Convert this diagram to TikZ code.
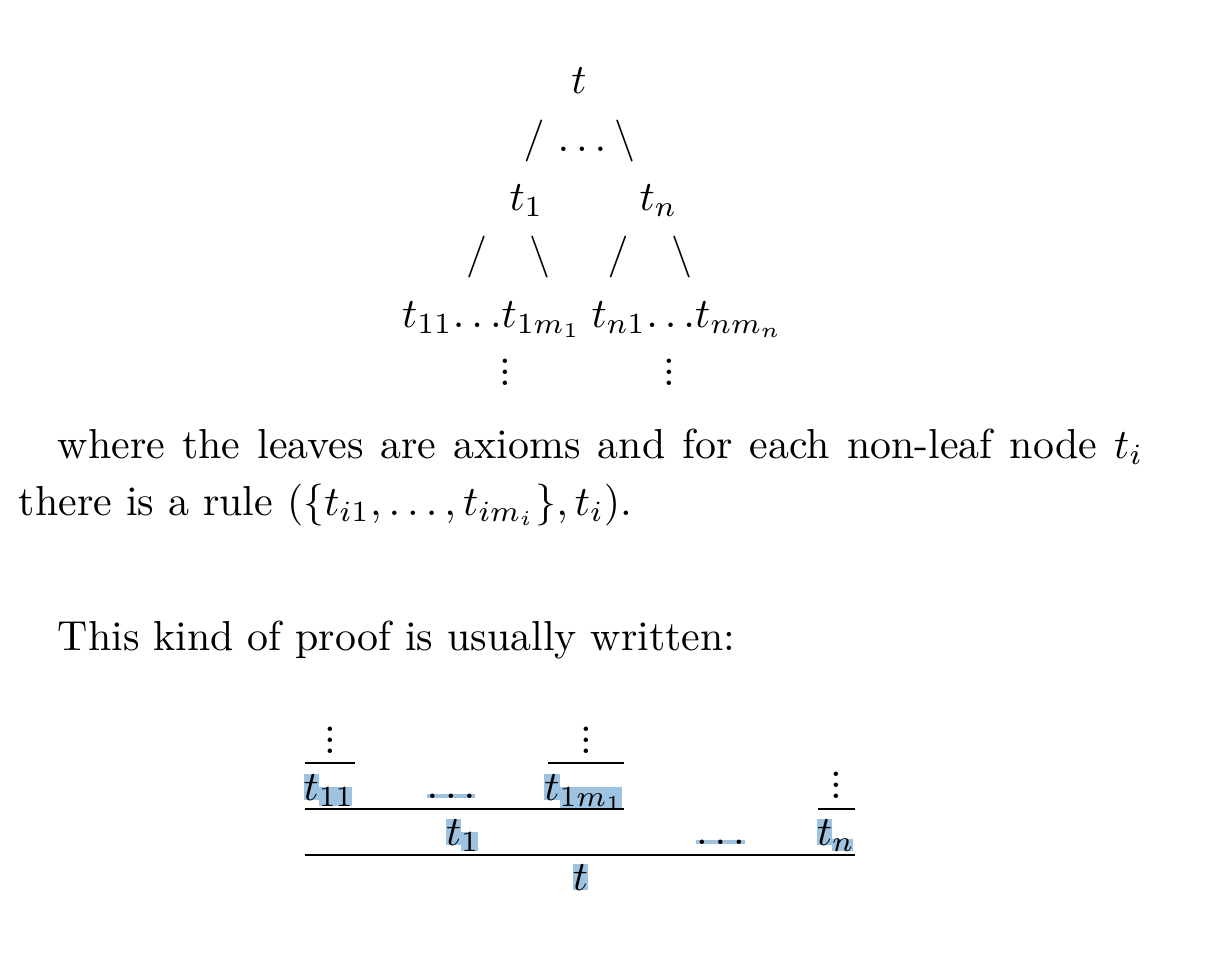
\documentclass[tikz,border=0pt]{standalone}
\definecolor{selblue}{RGB}{157,195,225}
\newcommand{\selhl}[1]{{\setlength{\fboxsep}{0pt}\colorbox{selblue}{$#1$}}}
\newcommand{\tvdots}{\vbox{\baselineskip2.6pt\lineskiplimit0pt\hbox{.}\hbox{.}\hbox{.}}}
\begin{document}
\begin{tikzpicture}[x=0.2386pt,y=-0.2386pt,line join=bevel,
  lbl/.style={anchor=base,inner sep=0pt},
  para/.style={anchor=base west,inner sep=0pt},
  thinrule/.style={line width=0.3pt},
  longrule/.style={line width=0.45pt}]
\useasboundingbox (0,0) rectangle (1224,966);
%% tree
\node (t) at (579,93) [lbl] {$t$};
  \node (sl) at (534,151) [lbl] {$/$};
  \node (dots) at (582,151) [lbl] {$\ldots$};
  \node (bsl) at (624.5,151) [lbl] {$\backslash$};
  \node (t1) at (526.5,210) [lbl] {$t_1$};
  \node (tn) at (658.5,210) [lbl] {$t_n$};
  \node (sl1) at (476.5,267) [lbl] {$/$};
  \node (bsl1) at (540,267) [lbl] {$\backslash$};
  \node (sln) at (618,267) [lbl] {$/$};
  \node (bsln) at (681.5,267) [lbl] {$\backslash$};
  \node (leaves1) at (492,327) [lbl] {$t_{11}{\ldots}t_{1m_1}$};
  \node (leavesn) at (687.5,327) [lbl] {$t_{n1}{\ldots}t_{nm_n}$};
  \node (vd1) at (505,385) [lbl] {\tvdots};
  \node (vdn) at (669,385) [lbl] {\tvdots};
%% text
\node (line1) at (57,458) [para] {\hbox to 259pt{where the leaves are axioms and for each non-leaf node $t_i$}};
  \node (line2) at (18,515) [para] {there is a rule $(\{t_{i1},\ldots,t_{im_i}\},t_i)$.};
  \node (line3) at (57,650) [para] {This kind of proof is usually written:};
%% proof
\node (vd*t11) at (330,753) [lbl] {\tvdots};
  \node (t11) at (329,800) [lbl] {$\selhl{t}_{\selhl{\scriptstyle 11}}$};
  \node (dots*1) at (451,798) [lbl] {\selhl{\ldots}};
  \node (vd*t1m) at (586,753) [lbl] {\tvdots};
  \node (t1m) at (584.5,800) [lbl] {$\selhl{t}_{\selhl{\scriptstyle 1m_1}}$};
  \node (p*t1) at (463,845) [lbl] {$\selhl{t}_{\selhl{\scriptstyle 1}}$};
  \node (dots*n) at (720.5,844) [lbl] {\selhl{\ldots}};
  \node (vd*tn) at (836,798) [lbl] {\tvdots};
  \node (p*tn) at (836,845) [lbl] {$\selhl{t}_{\selhl{\scriptstyle n}}$};
  \node (p*t) at (580.5,890) [lbl] {\selhl{t}};
  \coordinate (r11a) at (305,763);
  \coordinate (r11b) at (355,763);
  \coordinate (r1ma) at (548,763);
  \coordinate (r1mb) at (624,763);
  \coordinate (r1a) at (305,809);
  \coordinate (r1b) at (624,809);
  \coordinate (rna) at (818,809);
  \coordinate (rnb) at (855,809);
  \coordinate (ra) at (305,855);
  \coordinate (rb) at (855,855);
  \draw [thinrule] (r11a) -- (r11b);
  \draw [thinrule] (r1ma) -- (r1mb);
  \draw [longrule] (r1a) -- (r1b);
  \draw [thinrule] (rna) -- (rnb);
  \draw [longrule,line width=0.55pt] (ra) -- (rb);
%
\end{tikzpicture}
\end{document}
